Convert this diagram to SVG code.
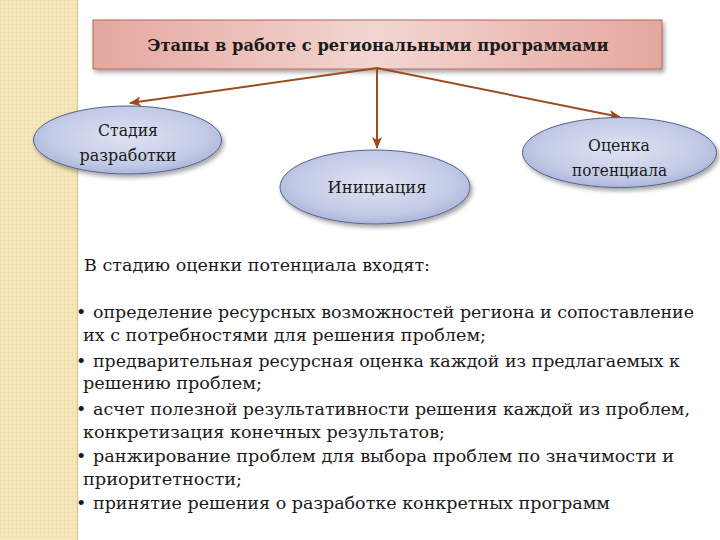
<svg xmlns="http://www.w3.org/2000/svg" width="720" height="540" viewBox="0 0 720 540">
<defs>
<linearGradient id="gTitle" x1="0" y1="0" x2="1" y2="0">
<stop offset="0" stop-color="#e4a79f"/>
<stop offset="0.5" stop-color="#f3d6d1"/>
<stop offset="1" stop-color="#e4a79f"/>
</linearGradient>
<radialGradient id="gEll" cx="0.5" cy="0.45" r="0.6">
<stop offset="0" stop-color="#dfe3f2"/>
<stop offset="0.7" stop-color="#c3cae6"/>
<stop offset="1" stop-color="#a3afd6"/>
</radialGradient>
<filter id="shadow" x="-10%" y="-20%" width="125%" height="160%">
<feDropShadow dx="2" dy="3" stdDeviation="2" flood-color="#000" flood-opacity="0.35"/>
</filter>
<marker id="arr" viewBox="0 0 12 10" refX="11" refY="5" markerWidth="12" markerHeight="10" markerUnits="userSpaceOnUse" orient="auto">
<path d="M0,0 L12,5 L0,10 L3,5 Z" fill="#9c4c1e"/>
</marker>
<pattern id="tex" width="4" height="4" patternUnits="userSpaceOnUse">
<rect width="4" height="4" fill="#f4e5b8"/>
<rect x="0" y="0" width="1" height="1" fill="#ead9a6"/>
<rect x="2" y="2" width="1" height="1" fill="#faeecb"/>
</pattern>
</defs>
<style>
.t{font-family:"DejaVu Serif","Liberation Serif",serif;fill:#1a1a1a}
.node{font-size:17px;text-anchor:middle}
.body{font-size:17.5px}
.conn{stroke:#9c4c1e;stroke-width:2;fill:none}
.ell{fill:url(#gEll);stroke:#55618f;stroke-width:1}
</style>
<rect width="720" height="540" fill="#ffffff"/>
<rect x="0" y="0" width="77" height="540" fill="url(#tex)"/>
<line x1="77.5" y1="0" x2="77.5" y2="540" stroke="#e2cf96" stroke-width="1.5"/>

<g id="title">
<rect x="93" y="20" width="569" height="49" fill="url(#gTitle)" stroke="#b5675e" stroke-width="1" filter="url(#shadow)"/>
<text class="t" x="378" y="51" font-size="16.5" font-weight="bold" text-anchor="middle" textLength="461" lengthAdjust="spacingAndGlyphs">Этапы в работе с региональными программами</text>
</g>

<g id="connectors">
<line class="conn" x1="377" y1="68" x2="130" y2="103" marker-end="url(#arr)"/>
<line class="conn" x1="377" y1="68" x2="377" y2="148" marker-end="url(#arr)"/>
<line class="conn" x1="377" y1="68" x2="620" y2="117" marker-end="url(#arr)"/>
</g>

<g id="node-stadia">
<ellipse class="ell" cx="127.5" cy="140" rx="94" ry="34" filter="url(#shadow)"/>
<text class="t node" x="128" y="136" textLength="60" lengthAdjust="spacingAndGlyphs">Стадия</text>
<text class="t node" x="128" y="161" textLength="97" lengthAdjust="spacingAndGlyphs">разработки</text>
</g>

<g id="node-initiation">
<ellipse class="ell" cx="375" cy="187" rx="95" ry="37" filter="url(#shadow)"/>
<text class="t node" x="377" y="193" textLength="99" lengthAdjust="spacingAndGlyphs">Инициация</text>
</g>

<g id="node-ocenka">
<ellipse class="ell" cx="619.5" cy="152.5" rx="97" ry="35" filter="url(#shadow)"/>
<text class="t node" x="619" y="151" textLength="62" lengthAdjust="spacingAndGlyphs">Оценка</text>
<text class="t node" x="619.5" y="176" textLength="95" lengthAdjust="spacingAndGlyphs">потенциала</text>
</g>

<g id="body-text">
<text class="t body" x="84" y="271" textLength="346" lengthAdjust="spacingAndGlyphs">В стадию оценки потенциала входят:</text>
<text class="t body" x="76" y="318">•</text>
<text class="t body" x="93" y="318" textLength="601" lengthAdjust="spacingAndGlyphs">определение ресурсных возможностей региона и сопоставление</text>
<text class="t body" x="83" y="341" textLength="403" lengthAdjust="spacingAndGlyphs">их с потребностями для решения проблем;</text>
<text class="t body" x="76" y="367">•</text>
<text class="t body" x="93" y="367" textLength="587" lengthAdjust="spacingAndGlyphs">предварительная ресурсная оценка каждой из предлагаемых к</text>
<text class="t body" x="83" y="389" textLength="179" lengthAdjust="spacingAndGlyphs">решению проблем;</text>
<text class="t body" x="76" y="415">•</text>
<text class="t body" x="93" y="415" textLength="597" lengthAdjust="spacingAndGlyphs">асчет полезной результативности решения каждой из проблем,</text>
<text class="t body" x="83" y="438" textLength="362" lengthAdjust="spacingAndGlyphs">конкретизация конечных результатов;</text>
<text class="t body" x="76" y="462">•</text>
<text class="t body" x="93" y="462" textLength="581" lengthAdjust="spacingAndGlyphs">ранжирование проблем для выбора проблем по значимости и</text>
<text class="t body" x="83" y="485" textLength="159" lengthAdjust="spacingAndGlyphs">приоритетности;</text>
<text class="t body" x="76" y="509">•</text>
<text class="t body" x="93" y="509" textLength="517" lengthAdjust="spacingAndGlyphs">принятие решения о разработке конкретных программ</text>
</g>
</svg>
